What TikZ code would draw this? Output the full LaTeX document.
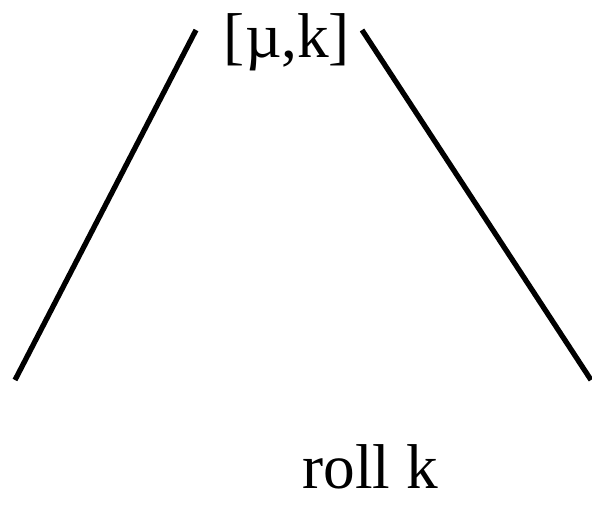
\documentclass[tikz,border=0pt]{standalone}
\usepackage{fontspec}
\setmainfont{Liberation Serif}
\usepackage{tikz}
\usetikzlibrary{positioning}

\begin{document}
\begin{tikzpicture}[x=0.01cm, y=-0.01cm, font=\fontsize{18}{21}\selectfont]

  % Rahmen (592 x 512)
  \useasboundingbox (0,0) rectangle (592,512);

  % Beschriftungen
  \node[anchor=base, inner sep=0pt] (pair) at (287,57) {[µ,k]};
  \node[anchor=base, inner sep=0pt] (roll) at (370,488) {roll k};

  % Endpunkte der Schenkel
  \coordinate (lt) at (196,30);
  \coordinate (lb) at (15,380);
  \coordinate (rt) at (362,30);
  \coordinate (rb) at (591,380);

  % Schenkel
  \draw[line width=1.5pt] (lt) -- (lb);
  \draw[line width=1.5pt] (rt) -- (rb);

\end{tikzpicture}
\end{document}
